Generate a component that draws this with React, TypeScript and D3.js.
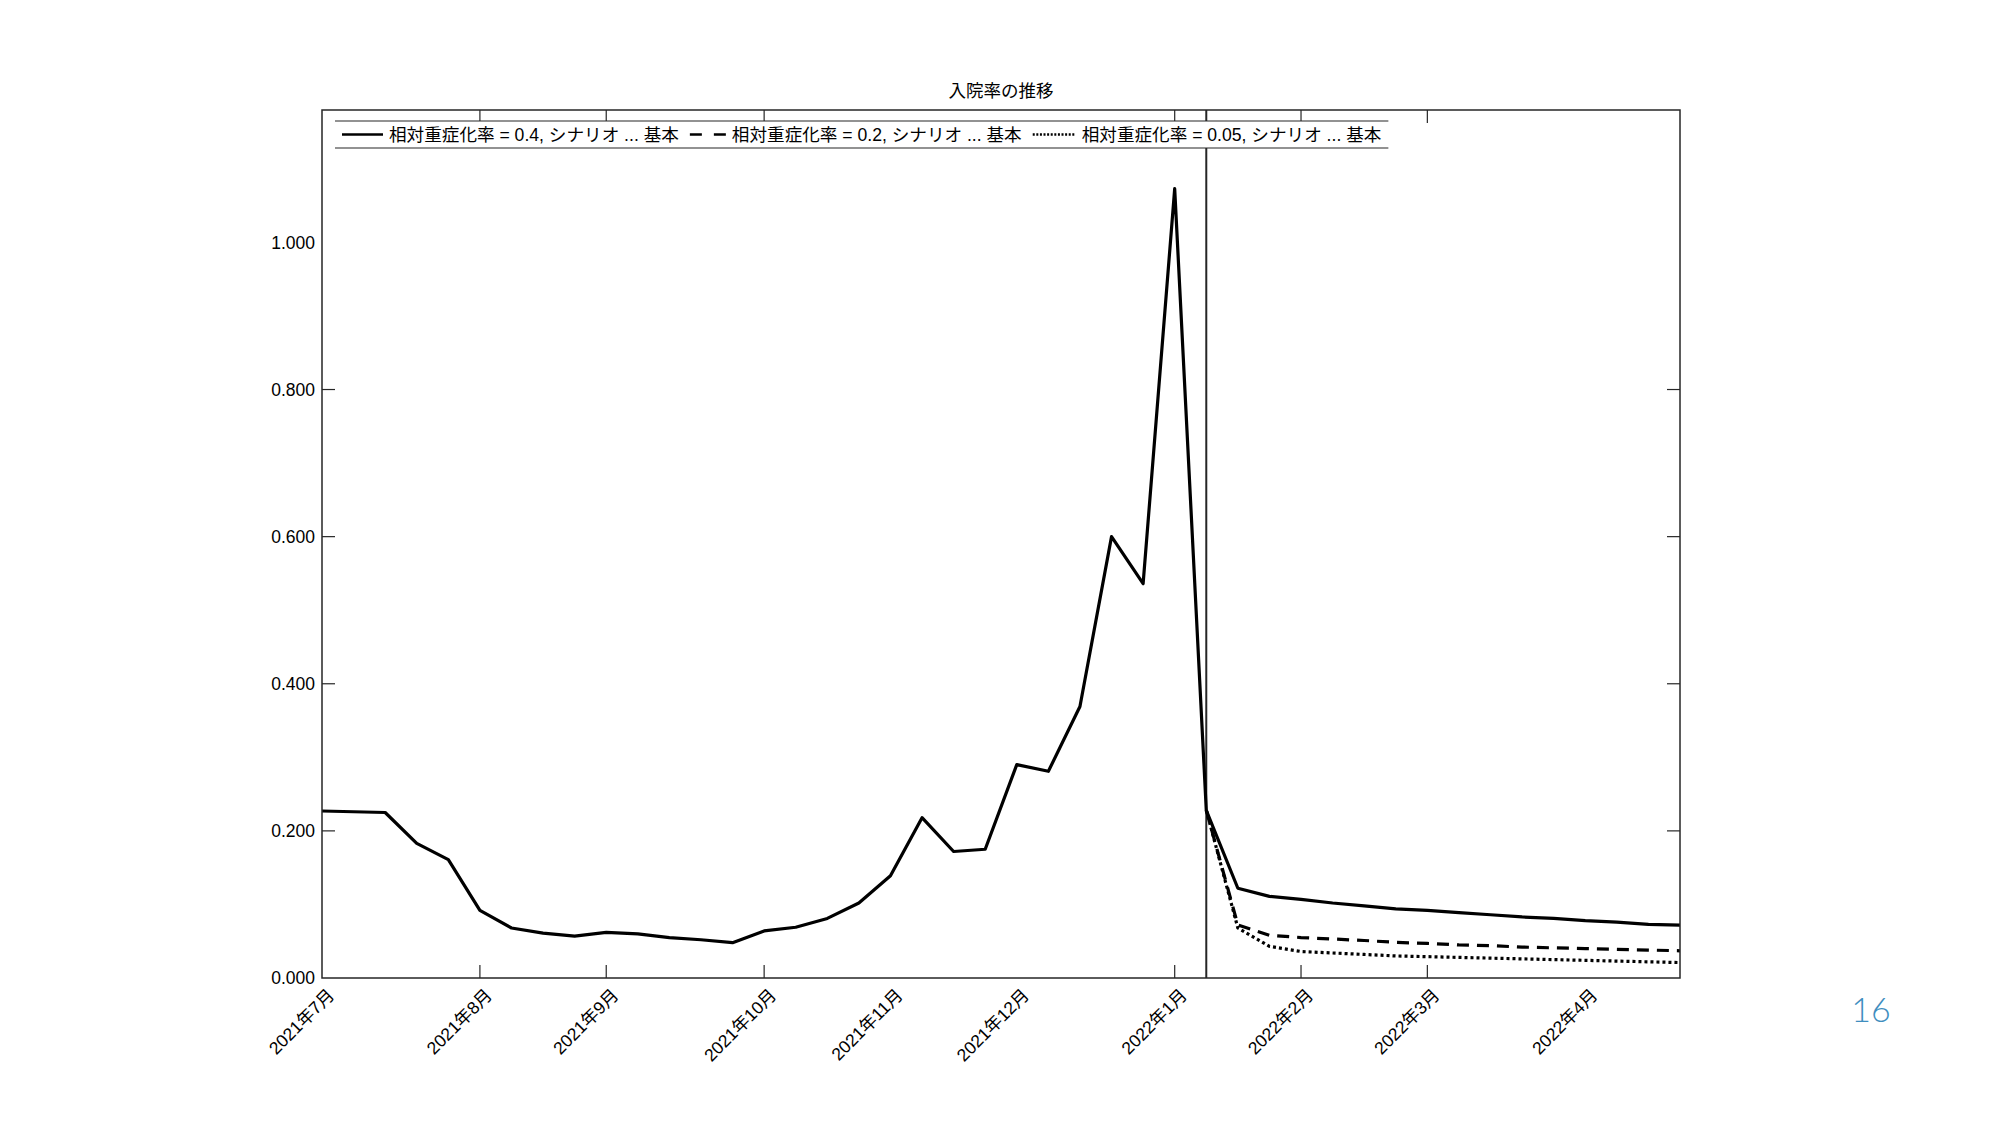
import React, { useEffect, useRef } from 'react';
import * as d3 from 'd3';

// Weekly hospitalization rate (week index 0 = first week of 2021年7月)
const baseSeries = [
  0.227, 0.226, 0.225, 0.183, 0.161, 0.092, 0.068, 0.061, 0.057, 0.062,
  0.060, 0.055, 0.052, 0.048, 0.064, 0.069, 0.081, 0.102, 0.139, 0.218,
  0.172, 0.175, 0.290, 0.281, 0.369, 0.600, 0.536, 1.073, 0.228, 0.122,
  0.111, 0.107, 0.102, 0.098, 0.094, 0.092, 0.089, 0.086, 0.083, 0.081,
  0.078, 0.076, 0.073, 0.072,
];
const scenarioStartWeek = 28;
const midSeries = [
  0.228, 0.072, 0.058, 0.055, 0.053, 0.051, 0.0485, 0.047, 0.045, 0.044,
  0.042, 0.041, 0.040, 0.039, 0.038, 0.037,
];
const lowSeries = [
  0.228, 0.068, 0.043, 0.036, 0.034, 0.032, 0.030, 0.029, 0.028, 0.027,
  0.026, 0.025, 0.024, 0.023, 0.022, 0.021,
];

const xTickLabels = [
  '2021年7月', '2021年8月', '2021年9月', '2021年10月', '2021年11月',
  '2021年12月', '2022年1月', '2022年2月', '2022年3月', '2022年4月',
];
const xTickLabelWeeks = [0, 5, 9, 14, 18, 22, 27, 31, 35, 40];
const xTickMarkWeeks = [5, 9, 14, 27, 31, 35];
const yTickLabels = [0, 0.2, 0.4, 0.6, 0.8, 1.0];
const yTickMarks = [0.2, 0.4, 0.6, 0.8];

const legendLabels = [
  '相対重症化率 = 0.4, シナリオ ... 基本',
  '相対重症化率 = 0.2, シナリオ ... 基本',
  '相対重症化率 = 0.05, シナリオ ... 基本',
];
const legendSampleLen = [41, 36, 43];
const legendDash = ['none', '12,12', '2,1.6'];
const seriesDash = ['none', '12,8', '3,3'];
const chartTitle = '入院率の推移';
const pageNumber = '16';

const FONT = "'Liberation Sans', 'Noto Sans CJK JP', sans-serif";
const AXIS = '#262626';

export default function App() {
  const ref = useRef<SVGSVGElement | null>(null);

  useEffect(() => {
    document.body.style.margin = '0';
    const svg = d3.select(ref.current);
    svg.selectAll('*').remove();

    const left = 322, right = 1680, top = 110, bottom = 978;
    const x = d3.scaleLinear().domain([0, baseSeries.length - 1]).range([left, right]);
    const y = d3.scaleLinear().domain([0, 1.18]).range([bottom, top]);
    const tickLen = 13;

    svg.append('rect').attr('width', 2000).attr('height', 1125).attr('fill', '#fff');

    // title
    svg.append('text')
      .attr('x', (left + right) / 2).attr('y', 97)
      .attr('text-anchor', 'middle')
      .attr('font-family', FONT).attr('font-size', 17.5).attr('fill', '#000')
      .text(chartTitle);

    // vertical marker line
    svg.append('line')
      .attr('x1', x(scenarioStartWeek)).attr('x2', x(scenarioStartWeek))
      .attr('y1', top).attr('y2', bottom)
      .attr('stroke', AXIS).attr('stroke-width', 2);

    // data lines
    const line = d3.line<number>().x((_, i) => x(i)).y((d) => y(d));
    const lineOff = d3.line<number>().x((_, i) => x(i + scenarioStartWeek)).y((d) => y(d));
    const g = svg.append('g').attr('fill', 'none').attr('stroke', '#000')
      .attr('stroke-width', 3.2).attr('stroke-linejoin', 'round');
    g.append('path').attr('d', lineOff(lowSeries)).attr('stroke-dasharray', seriesDash[2]);
    g.append('path').attr('d', lineOff(midSeries)).attr('stroke-dasharray', seriesDash[1]);
    g.append('path').attr('d', line(baseSeries));

    // axes box
    svg.append('rect')
      .attr('x', left).attr('y', top).attr('width', right - left).attr('height', bottom - top)
      .attr('fill', 'none').attr('stroke', AXIS).attr('stroke-width', 1.5);

    // x tick marks (bottom & top)
    xTickMarkWeeks.forEach((w) => {
      svg.append('line').attr('x1', x(w)).attr('x2', x(w))
        .attr('y1', bottom).attr('y2', bottom - tickLen).attr('stroke', AXIS).attr('stroke-width', 1.2);
      svg.append('line').attr('x1', x(w)).attr('x2', x(w))
        .attr('y1', top).attr('y2', top + tickLen).attr('stroke', AXIS).attr('stroke-width', 1.2);
    });
    // y tick marks (left & right)
    yTickMarks.forEach((v) => {
      svg.append('line').attr('x1', left).attr('x2', left + tickLen)
        .attr('y1', y(v)).attr('y2', y(v)).attr('stroke', AXIS).attr('stroke-width', 1.2);
      svg.append('line').attr('x1', right).attr('x2', right - tickLen)
        .attr('y1', y(v)).attr('y2', y(v)).attr('stroke', AXIS).attr('stroke-width', 1.2);
    });

    // y labels
    const fmt = d3.format('.3f');
    yTickLabels.forEach((v) => {
      svg.append('text')
        .attr('x', left - 7).attr('y', y(v)).attr('dy', '0.35em')
        .attr('text-anchor', 'end')
        .attr('font-family', FONT).attr('font-size', 17.5).attr('fill', '#000')
        .text(fmt(v));
    });

    // x labels
    xTickLabelWeeks.forEach((w, i) => {
      svg.append('text')
        .attr('transform', `translate(${x(w) + 9},${bottom + 14}) rotate(-45)`)
        .attr('dy', '0.35em')
        .attr('text-anchor', 'end')
        .attr('font-family', FONT).attr('font-size', 17.5).attr('fill', '#000')
        .text(xTickLabels[i]);
    });

    // legend
    const lg = svg.append('g');
    const lgTop = 121, lgBottom = 148, lgMid = 134.5;
    const bg = lg.append('rect').attr('fill', '#fff');
    let cx = 342;
    legendLabels.forEach((lab, i) => {
      const len = legendSampleLen[i];
      lg.append('line').attr('x1', cx).attr('x2', cx + len).attr('y1', lgMid).attr('y2', lgMid)
        .attr('stroke', '#000').attr('stroke-width', 2.6)
        .attr('stroke-dasharray', legendDash[i] === 'none' ? null : legendDash[i]);
      const t = lg.append('text').attr('x', cx + len + 6).attr('y', lgMid).attr('dy', '0.36em')
        .attr('font-family', FONT).attr('font-size', 17.6).attr('fill', '#000').text(lab);
      const w = (t.node() as SVGTextElement).getComputedTextLength();
      cx = cx + len + 6 + w + 11;
    });
    const lgRight = cx - 4;
    bg.attr('x', 335).attr('y', lgTop).attr('width', lgRight - 335).attr('height', lgBottom - lgTop);
    lg.append('line').attr('x1', 335).attr('x2', lgRight).attr('y1', lgTop).attr('y2', lgTop)
      .attr('stroke', AXIS).attr('stroke-width', 1.2);
    lg.append('line').attr('x1', 335).attr('x2', lgRight).attr('y1', lgBottom).attr('y2', lgBottom)
      .attr('stroke', AXIS).attr('stroke-width', 1.2);

    // page number
    svg.append('text')
      .attr('x', 1871).attr('y', 1022).attr('text-anchor', 'middle')
      .attr('font-family', "Lato, 'Open Sans', sans-serif").attr('font-weight', 300)
      .attr('font-size', 34).attr('fill', '#3F8EBF')
      .text(pageNumber);
  }, []);

  return (
    <svg ref={ref} width={2000} height={1125} style={{ display: 'block' }} />
  );
}
